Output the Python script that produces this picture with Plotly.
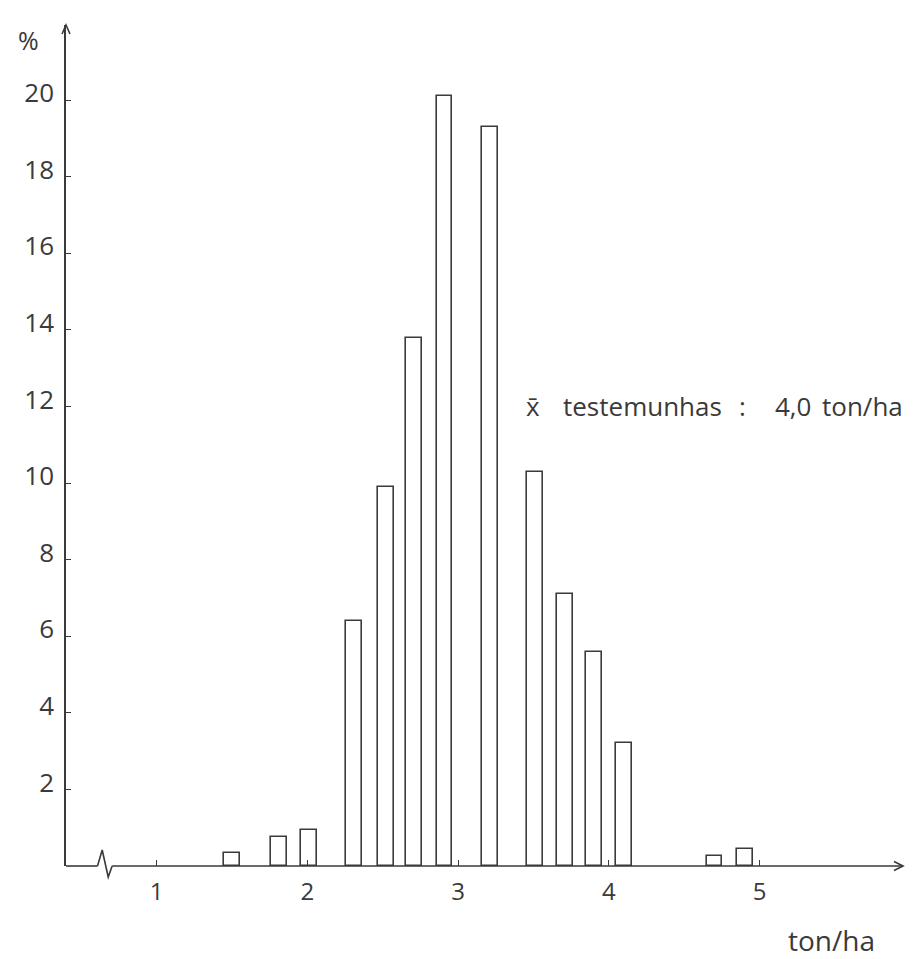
import plotly.graph_objects as go

# data
yield_ton_ha = [1.50, 1.81, 2.01, 2.31, 2.52, 2.71, 2.91, 3.21, 3.51, 3.71, 3.90, 4.10, 4.70, 4.90]
percent = [0.35, 0.77, 0.95, 6.4, 9.9, 13.8, 20.1, 19.3, 10.3, 7.1, 5.6, 3.2, 0.25, 0.45]
x_ticks = [1, 2, 3, 4, 5]
x_tick_labels = ["1", "2", "3", "4", "5"]
y_ticks = [2, 4, 6, 8, 10, 12, 14, 16, 18, 20]
y_tick_labels = ["2", "4", "6", "8", "10", "12", "14", "16", "18", "20"]
note_words = ["x\u0304", "testemunhas", ":", "4,0", "ton/ha"]
note_x = [3.44, 3.68, 4.85, 5.09, 5.40]
note_y = 12.0
y_title = "%"
x_title = "ton/ha"

INK = "#3a3a3a"
FONT = "Open Sans"
W, H = 920, 959
ML, MR, MT, MB = 66, 17, 25, 93
XR = [0.40, 5.95]
YR = [0, 21.96]
PW = W - ML - MR
PH = H - MT - MB


def px_x(v):
    return (v - XR[0]) / (XR[1] - XR[0])


def px_y(pix):
    return pix / PH


fig = go.Figure()
fig.add_trace(go.Bar(
    x=yield_ton_ha, y=percent, width=0.105,
    marker=dict(color="white", line=dict(color=INK, width=1.6)),
    hoverinfo="x+y", showlegend=False,
))

shapes = []
# x baseline with axis-break zigzag
brk = [0.609, 0.640, 0.680, 0.706]
line_style = dict(color=INK, width=1.6)
shapes.append(dict(type="line", xref="paper", yref="paper", x0=0, y0=0, x1=px_x(brk[0]), y1=0,
                   line=line_style, layer="above"))
shapes.append(dict(type="path", xref="paper", yref="paper",
                   path=f"M{px_x(brk[0])},0 L{px_x(brk[1])},{px_y(16)} L{px_x(brk[2])},{px_y(-11)} L{px_x(brk[3])},0",
                   line=line_style, layer="above"))
shapes.append(dict(type="line", xref="paper", yref="paper", x0=px_x(brk[3]), y0=0, x1=1, y1=0,
                   line=line_style, layer="above"))
# arrowheads
ah = 9
shapes.append(dict(type="path", xref="paper", yref="paper",
                   path=f"M{1 - ah / PW},{px_y(4.5)} L1,0 L{1 - ah / PW},{px_y(-4.5)}",
                   line=line_style, layer="above"))
shapes.append(dict(type="path", xref="paper", yref="paper",
                   path=f"M{-4 / PW},{1 - ah / PH} L0,1 L{4 / PW},{1 - ah / PH}",
                   line=line_style, layer="above"))

annotations = []
for word, xv in zip(note_words, note_x):
    annotations.append(dict(x=xv, y=note_y, xref="x", yref="y", text=word, showarrow=False,
                            xanchor="left", yanchor="middle",
                            font=dict(family=FONT, size=26, color=INK)))
annotations.append(dict(x=(28 - ML) / PW, y=1 - (40 - MT) / PH, xref="paper", yref="paper",
                        text=y_title, showarrow=False, xanchor="center", yanchor="middle",
                        font=dict(family=FONT, size=25, color=INK)))
annotations.append(dict(x=(831 - ML) / PW, y=-(940 - (H - MB)) / PH, xref="paper", yref="paper",
                        text=x_title, showarrow=False, xanchor="center", yanchor="middle",
                        font=dict(family=FONT, size=28, color=INK)))

fig.update_layout(
    width=W, height=H,
    margin=dict(l=ML, r=MR, t=MT, b=MB, pad=0),
    paper_bgcolor="white", plot_bgcolor="white",
    bargap=0,
    shapes=shapes, annotations=annotations,
    xaxis=dict(range=XR, tickvals=x_ticks, ticktext=x_tick_labels, ticks="inside", ticklen=6,
               tickwidth=1.4, tickcolor=INK, showline=False, showgrid=False, zeroline=False,
               tickfont=dict(family=FONT, size=24, color=INK), ticklabelstandoff=9),
    yaxis=dict(range=YR, tickvals=y_ticks, ticktext=y_tick_labels, ticks="inside", ticklen=5,
               tickwidth=1.4, tickcolor=INK, showline=True, linecolor=INK, linewidth=1.6,
               showgrid=False, zeroline=False, ticklabelshift=-7,
               tickfont=dict(family=FONT, size=26, color=INK), ticklabelstandoff=5),
)

fig.write_html("out.html", config={"displayModeBar": False},
               post_script="document.body.style.margin='0';")
